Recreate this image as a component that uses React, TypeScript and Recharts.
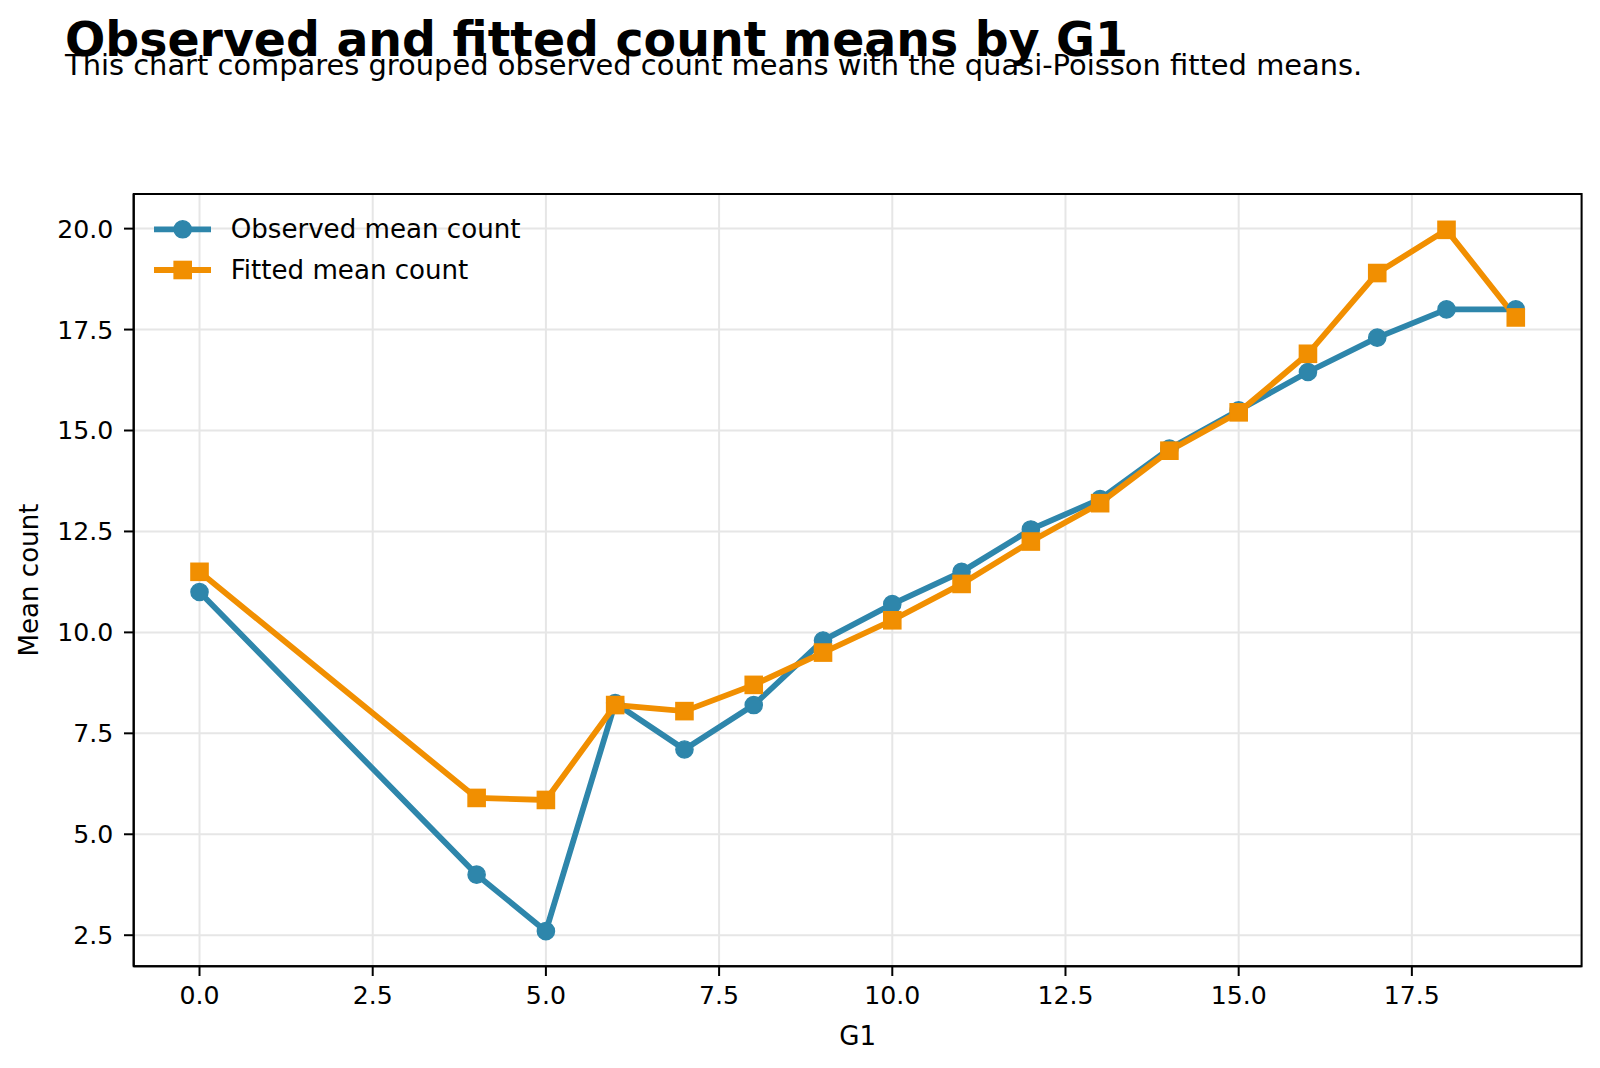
import React from 'react';
import {
  LineChart,
  Line,
  XAxis,
  YAxis,
  CartesianGrid,
  ReferenceArea,
} from 'recharts';

// Grouped G1 values and the two series of mean counts
const g1Values = [0, 4, 5, 6, 7, 8, 9, 10, 11, 12, 13, 14, 15, 16, 17, 18, 19];
const observedMeans = [11.0, 4.0, 2.6, 8.25, 7.1, 8.2, 9.8, 10.7, 11.5, 12.55, 13.3, 14.55, 15.5, 16.45, 17.3, 18.0, 18.0];
const fittedMeans = [11.5, 5.9, 5.85, 8.2, 8.05, 8.7, 9.5, 10.3, 11.2, 12.25, 13.2, 14.5, 15.45, 16.9, 18.9, 19.97, 17.8];

const xTicks = [0, 2.5, 5, 7.5, 10, 12.5, 15, 17.5];
const yTicks = [2.5, 5, 7.5, 10, 12.5, 15, 17.5, 20];

const X_DOMAIN: [number, number] = [-0.95, 19.95];
const Y_DOMAIN: [number, number] = [1.73, 20.86];

const BLUE = '#2E86AB';
const ORANGE = '#F18F01';
const FONT = '"DejaVu Sans", sans-serif';
const TICK_FONT = 25.2;
const LABEL_FONT = 26.1;
const TITLE_FONT = 47.4;
const SUB_FONT = 28.9;

const rows = g1Values.map((g, i) => ({
  g,
  observed: observedMeans[i],
  fitted: fittedMeans[i],
}));

const fmt = (v: number) => v.toFixed(1);

const CircleDot = (props: any) => {
  const { cx, cy, index } = props;
  if (cx == null || cy == null) return null;
  return <circle key={`o-${index}`} cx={cx} cy={cy} r={8.6} fill={BLUE} stroke={BLUE} strokeWidth={1.4} />;
};

const SquareDot = (props: any) => {
  const { cx, cy, index } = props;
  if (cx == null || cy == null) return null;
  const s = 17;
  return (
    <rect key={`f-${index}`} x={cx - s / 2} y={cy - s / 2} width={s} height={s} fill={ORANGE} stroke={ORANGE} strokeWidth={1.6} />
  );
};

const legendItems = [
  { label: 'Observed mean count', color: BLUE, shape: 'circle' },
  { label: 'Fitted mean count', color: ORANGE, shape: 'square' },
];

const LegendBox = () => (
  <svg width={420} height={90} style={{ position: 'absolute', left: 150, top: 207, overflow: 'visible' }}>
    {legendItems.map((it, i) => {
      const cy = 22.3 + i * 40.7;
      return (
        <g key={it.label}>
          <line x1={4} x2={61} y1={cy} y2={cy} stroke={it.color} strokeWidth={5.8} />
          {it.shape === 'circle' ? (
            <circle cx={32.7} cy={cy} r={8.6} fill={it.color} stroke={it.color} strokeWidth={1.4} />
          ) : (
            <rect x={32.7 - 8.5} y={cy - 8.5} width={17} height={17} fill={it.color} stroke={it.color} strokeWidth={1.6} />
          )}
          <text x={80.7} y={cy} dominantBaseline="central" fontFamily={FONT} fontSize={LABEL_FONT} fill="#000">
            {it.label}
          </text>
        </g>
      );
    })}
  </svg>
);

const YLabel = (props: any) => {
  const vb = props.viewBox || {};
  const cy = (vb.y ?? 0) + (vb.height ?? 0) / 2;
  const cx = 29;
  return (
    <text
      x={cx}
      y={cy}
      transform={`rotate(-90, ${cx}, ${cy})`}
      textAnchor="middle"
      dominantBaseline="central"
      fontFamily={FONT}
      fontSize={LABEL_FONT}
      fill="#000"
    >
      Mean count
    </text>
  );
};

const XLabel = (props: any) => {
  const vb = props.viewBox || {};
  const cx = (vb.x ?? 0) + (vb.width ?? 0) / 2;
  const cy = (vb.y ?? 0) + 69.7;
  return (
    <text x={cx} y={cy} textAnchor="middle" dominantBaseline="central" fontFamily={FONT} fontSize={LABEL_FONT} fill="#000">
      G1
    </text>
  );
};

export default function App() {
  return (
    <div style={{ position: 'absolute', left: 0, top: 0, width: 1600, height: 1068, background: '#fff', fontFamily: FONT }}>
      <LineChart
        width={1600}
        height={1068}
        data={rows}
        margin={{ top: 193.9, right: 18.4, bottom: 71.7, left: 73.7 }}
        style={{ position: 'absolute', left: 0, top: 0 }}
      >
        <CartesianGrid stroke="#e6e6e6" strokeWidth={2} />
        <XAxis
          dataKey="g"
          type="number"
          domain={X_DOMAIN}
          allowDataOverflow
          ticks={xTicks}
          tickFormatter={fmt}
          height={30}
          tickSize={9.7}
          tickMargin={10}
          axisLine={{ stroke: '#000', strokeWidth: 2 }}
          tickLine={{ stroke: '#000', strokeWidth: 2 }}
          tick={{ fill: '#000', fontSize: TICK_FONT, fontFamily: FONT }}
          interval={0}
          label={<XLabel />}
        />
        <YAxis
          type="number"
          domain={Y_DOMAIN}
          allowDataOverflow
          ticks={yTicks}
          tickFormatter={fmt}
          width={60}
          tickSize={9.7}
          tickMargin={10.7}
          axisLine={{ stroke: '#000', strokeWidth: 2 }}
          tickLine={{ stroke: '#000', strokeWidth: 2 }}
          tick={{ fill: '#000', fontSize: TICK_FONT, fontFamily: FONT }}
          interval={0}
          label={<YLabel />}
        />
        <Line
          type="linear"
          dataKey="observed"
          name="Observed mean count"
          stroke={BLUE}
          strokeWidth={5.8}
          dot={<CircleDot />}
          activeDot={false}
          isAnimationActive={false}
        />
        <Line
          type="linear"
          dataKey="fitted"
          name="Fitted mean count"
          stroke={ORANGE}
          strokeWidth={5.8}
          dot={<SquareDot />}
          activeDot={false}
          isAnimationActive={false}
        />
        <ReferenceArea
          x1={X_DOMAIN[0]}
          x2={X_DOMAIN[1]}
          y1={Y_DOMAIN[0]}
          y2={Y_DOMAIN[1]}
          fill="none"
          fillOpacity={0}
          stroke="#000"
          strokeWidth={2}
          ifOverflow="visible"
        />
      </LineChart>
      <LegendBox />
      <div
        style={{
          position: 'absolute',
          left: 65,
          top: 56 - 0.846 * TITLE_FONT,
          fontSize: TITLE_FONT,
          fontWeight: 'bold',
          lineHeight: 1,
          whiteSpace: 'nowrap',
          color: '#000',
        }}
      >
        Observed and fitted count means by G1
      </div>
      <div
        style={{
          position: 'absolute',
          left: 65,
          top: 75.5 - 0.846 * SUB_FONT,
          fontSize: SUB_FONT,
          lineHeight: 1,
          whiteSpace: 'nowrap',
          color: '#000',
        }}
      >
        This chart compares grouped observed count means with the quasi-Poisson fitted means.
      </div>
    </div>
  );
}
